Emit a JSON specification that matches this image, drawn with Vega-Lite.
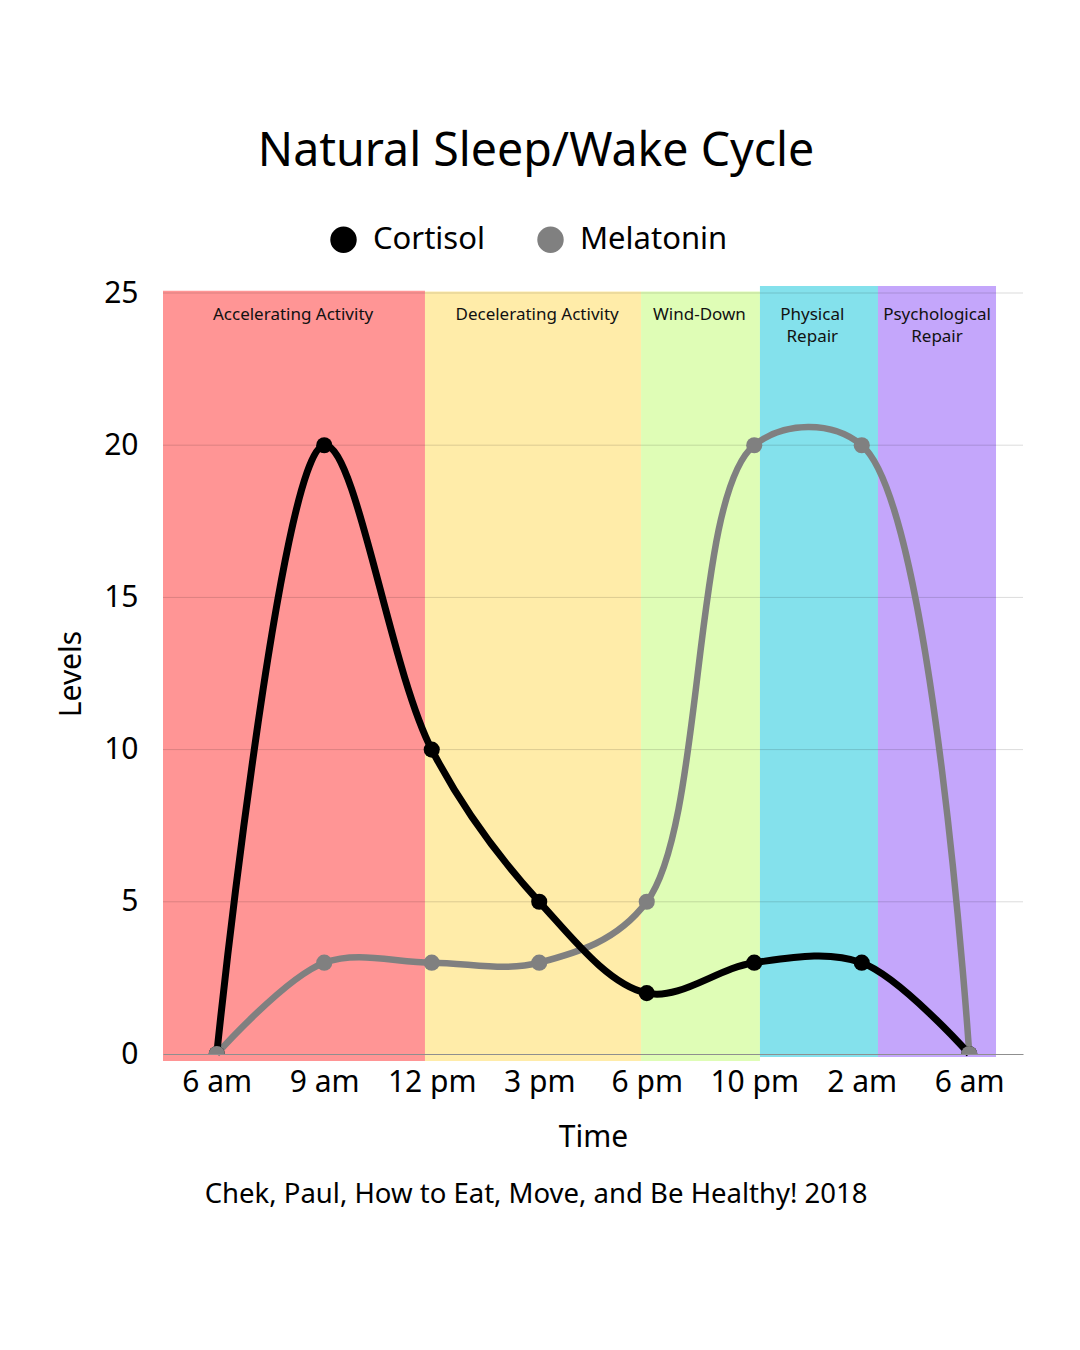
{
  "$schema": "https://vega.github.io/schema/vega-lite/v6.json",
  "description": "Natural sleep/wake cycle: cortisol and melatonin levels over a day, with activity phases.",
  "background": "white",
  "padding": {"left": 56, "top": 128, "right": 57, "bottom": 20},
  "config": {
    "font": "Noto Sans",
    "view": {"stroke": null},
    "title": {"fontWeight": "normal", "color": "#000000", "font": "Noto Sans"},
    "axis": {
      "labelFont": "Noto Sans",
      "titleFont": "Noto Sans",
      "labelColor": "#000000",
      "titleColor": "#000000",
      "titleFontWeight": "normal",
      "labelFontSize": 30,
      "titleFontSize": 30
    },
    "legend": {
      "orient": "none",
      "legendX": 165,
      "legendY": -69,
      "direction": "horizontal",
      "symbolType": "circle",
      "symbolSize": 700,
      "symbolStrokeWidth": 0,
      "symbolOpacity": 1,
      "labelFont": "Noto Sans",
      "labelFontSize": 31,
      "labelColor": "#000000",
      "labelOffset": 14,
      "columnPadding": 50
    }
  },
  "datasets": {
    "levels": [
      {"t": 0, "series": "Cortisol", "v": 0},
      {"t": 1, "series": "Cortisol", "v": 20},
      {"t": 2, "series": "Cortisol", "v": 10},
      {"t": 3, "series": "Cortisol", "v": 5},
      {"t": 4, "series": "Cortisol", "v": 2},
      {"t": 5, "series": "Cortisol", "v": 3},
      {"t": 6, "series": "Cortisol", "v": 3},
      {"t": 7, "series": "Cortisol", "v": 0},
      {"t": 0, "series": "Melatonin", "v": 0},
      {"t": 1, "series": "Melatonin", "v": 3},
      {"t": 2, "series": "Melatonin", "v": 3},
      {"t": 3, "series": "Melatonin", "v": 3},
      {"t": 4, "series": "Melatonin", "v": 5},
      {"t": 5, "series": "Melatonin", "v": 20},
      {"t": 6, "series": "Melatonin", "v": 20},
      {"t": 7, "series": "Melatonin", "v": 0}
    ],
    "phases": [
      {"phase": "Accelerating Activity", "label": "Accelerating Activity", "x0": -0.5, "x1": 1.937, "y0": -0.23, "y1": 25.07, "mid": 0.71},
      {"phase": "Decelerating Activity", "label": "Decelerating Activity", "x0": 1.937, "x1": 3.947, "y0": -0.23, "y1": 25.05, "mid": 2.98},
      {"phase": "Wind-Down", "label": "Wind-Down", "x0": 3.947, "x1": 5.053, "y0": -0.23, "y1": 25.05, "mid": 4.49},
      {"phase": "Physical Repair", "label": "Physical\nRepair", "x0": 5.053, "x1": 6.151, "y0": -0.1, "y1": 25.23, "mid": 5.54},
      {"phase": "Psychological Repair", "label": "Psychological\nRepair", "x0": 6.151, "x1": 7.249, "y0": -0.1, "y1": 25.23, "mid": 6.7}
    ],
    "grid": [{"g": 5}, {"g": 10}, {"g": 15}, {"g": 20}, {"g": 25}]
  },
  "title": {
    "text": "Natural Sleep/Wake Cycle",
    "fontSize": 46.5,
    "anchor": "middle",
    "frame": "bounds",
    "offset": 49,
    "dx": -4
  },
  "vconcat": [
    {
      "width": 860,
      "height": 761,
      "title": {
        "text": "Chek, Paul, How to Eat, Move, and Be Healthy! 2018",
        "orient": "bottom",
        "anchor": "middle",
        "frame": "bounds",
        "fontSize": 27.5,
        "offset": 29,
        "dx": -4
      },
      "layer": [
        {
          "data": {"name": "phases"},
          "mark": {"type": "rect"},
          "encoding": {
            "x": {
              "field": "x0",
              "type": "quantitative",
              "title": "Time",
              "scale": {"domain": [-0.5, 7.5], "nice": false, "zero": false},
              "axis": {
                "values": [0, 1, 2, 3, 4, 5, 6, 7],
                "labelExpr": "['6 am', '9 am', '12 pm', '3 pm', '6 pm', '10 pm', '2 am', '6 am'][datum.value]",
                "labelOverlap": false,
                "labelFlush": false,
                "grid": false,
                "ticks": false,
                "domain": true,
                "domainColor": "#8f8f8f",
                "domainWidth": 1,
                "labelPadding": 13,
                "titlePadding": 25,
                "zindex": 1
              }
            },
            "x2": {"field": "x1"},
            "y": {
              "field": "y0",
              "type": "quantitative",
              "title": "Levels",
              "scale": {"domain": [0, 25], "nice": false},
              "axis": {
                "values": [0, 5, 10, 15, 20, 25],
                "grid": false,
                "ticks": false,
                "domain": false,
                "labelPadding": 25,
                "titlePadding": 17
              }
            },
            "y2": {"field": "y1"},
            "fill": {
              "field": "phase",
              "type": "nominal",
              "scale": {
                "domain": ["Accelerating Activity", "Decelerating Activity", "Wind-Down", "Physical Repair", "Psychological Repair"],
                "range": ["#ff9595", "#ffeca9", "#dffdb6", "#84e1ec", "#c4a6fb"]
              },
              "legend": null
            }
          }
        },
        {
          "data": {"name": "grid"},
          "mark": {"type": "rule", "color": "#000000", "opacity": 0.14, "strokeWidth": 1},
          "encoding": {
            "y": {"field": "g", "type": "quantitative", "title": "Levels"}
          }
        },
        {
          "data": {"name": "levels"},
          "transform": [{"filter": "datum.series === 'Melatonin'"}],
          "mark": {"type": "line", "color": "#808080", "strokeWidth": 6.5, "interpolate": "catmull-rom"},
          "encoding": {
            "x": {"field": "t", "type": "quantitative", "title": "Time"},
            "y": {"field": "v", "type": "quantitative", "title": "Levels"}
          }
        },
        {
          "data": {"name": "levels"},
          "transform": [{"filter": "datum.series === 'Cortisol'"}],
          "mark": {"type": "line", "color": "#000000", "strokeWidth": 7, "interpolate": "catmull-rom"},
          "encoding": {
            "x": {"field": "t", "type": "quantitative", "title": "Time"},
            "y": {"field": "v", "type": "quantitative", "title": "Levels"}
          }
        },
        {
          "data": {"name": "levels"},
          "transform": [{"filter": "datum.series === 'Cortisol'"}],
          "mark": {"type": "point", "filled": true, "size": 260, "opacity": 1, "clip": true},
          "encoding": {
            "x": {"field": "t", "type": "quantitative", "title": "Time"},
            "y": {"field": "v", "type": "quantitative", "title": "Levels"},
            "color": {
              "field": "series",
              "type": "nominal",
              "scale": {"domain": ["Cortisol", "Melatonin"], "range": ["#000000", "#808080"]},
              "legend": {"title": null}
            }
          }
        },
        {
          "data": {"name": "levels"},
          "transform": [{"filter": "datum.series === 'Melatonin'"}],
          "mark": {"type": "point", "filled": true, "size": 260, "opacity": 1, "clip": true},
          "encoding": {
            "x": {"field": "t", "type": "quantitative", "title": "Time"},
            "y": {"field": "v", "type": "quantitative", "title": "Levels"},
            "color": {
              "field": "series",
              "type": "nominal",
              "scale": {"domain": ["Cortisol", "Melatonin"], "range": ["#000000", "#808080"]},
              "legend": {"title": null}
            }
          }
        },
        {
          "data": {"name": "phases"},
          "mark": {"type": "text", "fontSize": 17, "color": "#111111", "baseline": "top", "align": "center", "lineBreak": "\n", "lineHeight": 22},
          "encoding": {
            "x": {"field": "mid", "type": "quantitative", "title": "Time"},
            "y": {"datum": 24.55, "type": "quantitative", "title": "Levels"},
            "text": {"field": "label"}
          }
        }
      ]
    }
  ]
}
